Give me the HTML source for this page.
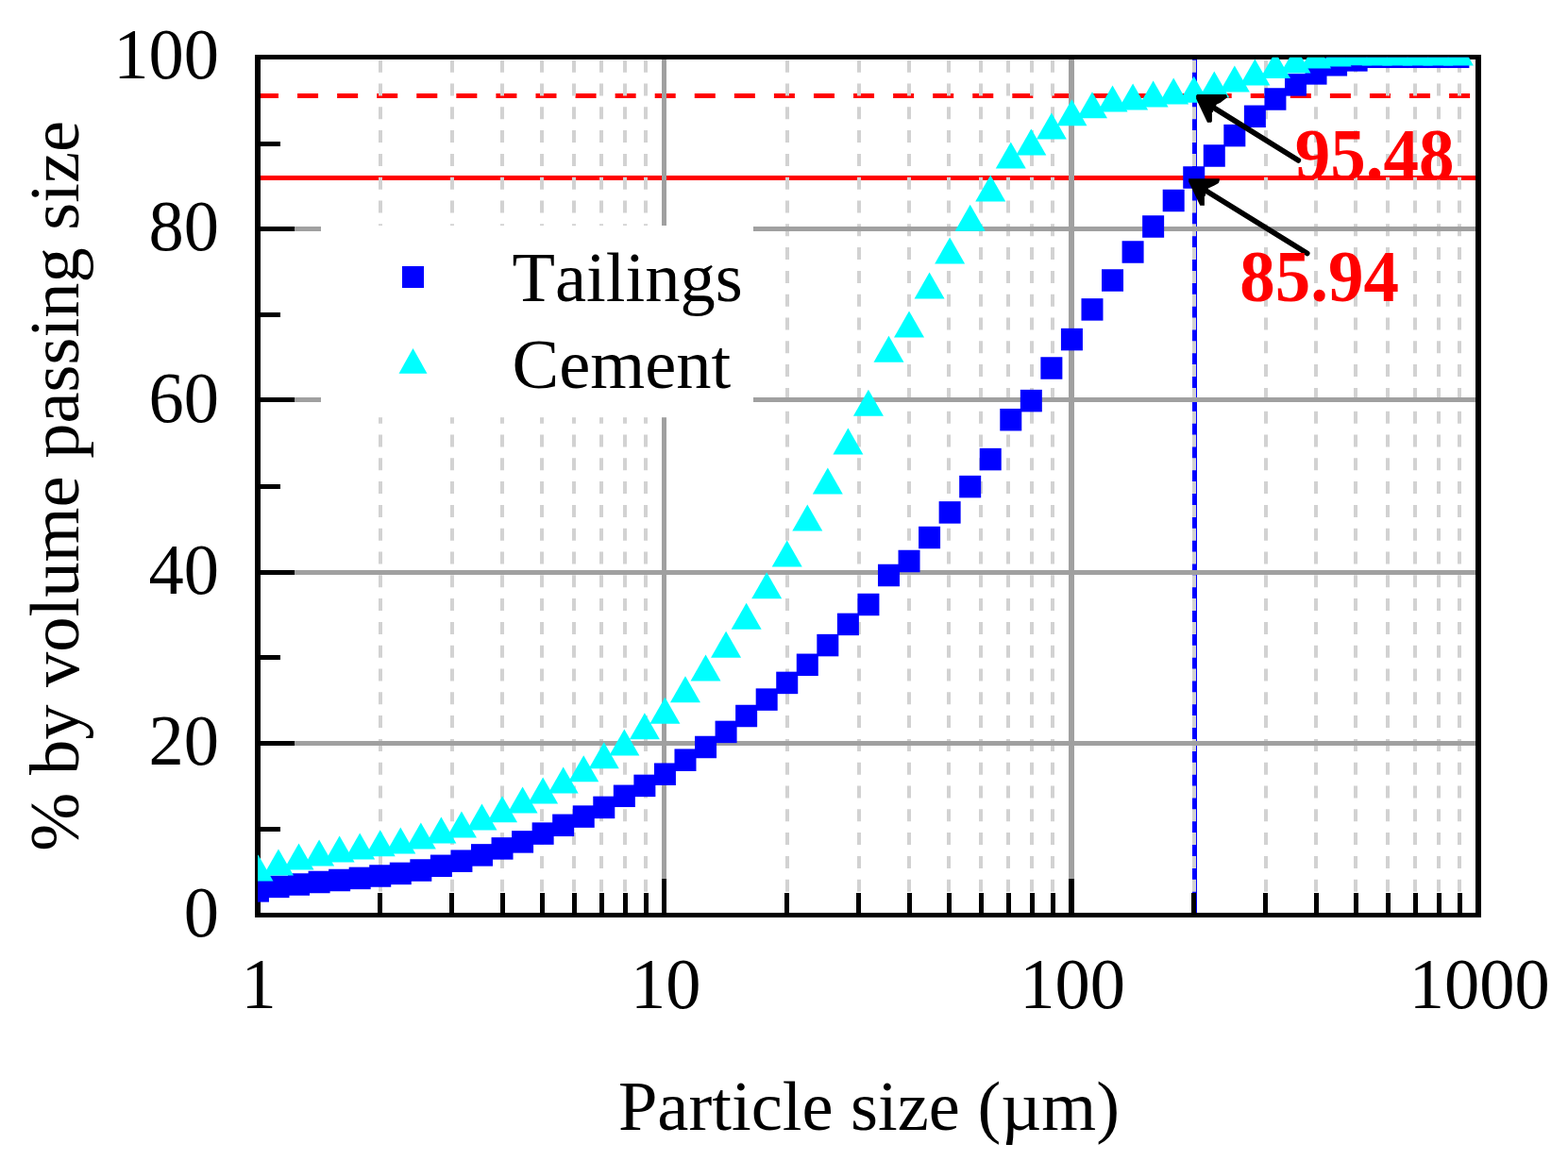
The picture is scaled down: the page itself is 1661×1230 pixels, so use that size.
<!DOCTYPE html>
<html><head><meta charset="utf-8"><title>Particle size distribution</title>
<style>html,body{margin:0;padding:0;background:#fff;}svg{display:block;}text{font-family:"Liberation Serif", "Times New Roman", serif;font-kerning:none;}</style></head><body>
<svg width="1661" height="1230" viewBox="0 0 1661 1230">
<rect x="0" y="0" width="1661" height="1230" fill="#fff"/>
<defs><clipPath id="pc"><rect x="273.0" y="60.8" width="1293.0" height="908.7"/></clipPath></defs>
<g id="ref">
<line x1="273.0" y1="101.5" x2="1566.0" y2="101.5" stroke="#f00" stroke-width="5" stroke-dasharray="22 20.07"/>
<line x1="273.0" y1="188.5" x2="1566.0" y2="188.5" stroke="#f00" stroke-width="5"/>
<line x1="1265.5" y1="969.5" x2="1265.5" y2="60.5" stroke="#00f" stroke-width="5"/>
</g>
<g id="minor" stroke="#d2d2d2" stroke-width="4" stroke-dasharray="13 11.8">
<line x1="403.00" y1="969.5" x2="403.00" y2="60.5"/>
<line x1="479.00" y1="969.5" x2="479.00" y2="60.5"/>
<line x1="532.00" y1="969.5" x2="532.00" y2="60.5"/>
<line x1="574.00" y1="969.5" x2="574.00" y2="60.5"/>
<line x1="608.00" y1="969.5" x2="608.00" y2="60.5"/>
<line x1="637.00" y1="969.5" x2="637.00" y2="60.5"/>
<line x1="662.00" y1="969.5" x2="662.00" y2="60.5"/>
<line x1="684.00" y1="969.5" x2="684.00" y2="60.5"/>
<line x1="834.00" y1="969.5" x2="834.00" y2="60.5"/>
<line x1="910.00" y1="969.5" x2="910.00" y2="60.5"/>
<line x1="963.00" y1="969.5" x2="963.00" y2="60.5"/>
<line x1="1005.00" y1="969.5" x2="1005.00" y2="60.5"/>
<line x1="1039.00" y1="969.5" x2="1039.00" y2="60.5"/>
<line x1="1068.00" y1="969.5" x2="1068.00" y2="60.5"/>
<line x1="1093.00" y1="969.5" x2="1093.00" y2="60.5"/>
<line x1="1115.00" y1="969.5" x2="1115.00" y2="60.5"/>
<line x1="1265.00" y1="969.5" x2="1265.00" y2="60.5"/>
<line x1="1341.00" y1="969.5" x2="1341.00" y2="60.5"/>
<line x1="1394.00" y1="969.5" x2="1394.00" y2="60.5"/>
<line x1="1436.00" y1="969.5" x2="1436.00" y2="60.5"/>
<line x1="1470.00" y1="969.5" x2="1470.00" y2="60.5"/>
<line x1="1499.00" y1="969.5" x2="1499.00" y2="60.5"/>
<line x1="1524.00" y1="969.5" x2="1524.00" y2="60.5"/>
<line x1="1546.00" y1="969.5" x2="1546.00" y2="60.5"/>
</g>
<g id="major" stroke="#a0a0a0">
<line x1="703.50" y1="969.5" x2="703.50" y2="60.5" stroke-width="5"/>
<line x1="1135.00" y1="969.5" x2="1135.00" y2="60.5" stroke-width="6"/>
<line x1="273.0" y1="787.50" x2="1566.0" y2="787.50" stroke-width="5"/>
<line x1="273.0" y1="606.50" x2="1566.0" y2="606.50" stroke-width="5"/>
<line x1="273.0" y1="423.50" x2="1566.0" y2="423.50" stroke-width="5"/>
<line x1="273.0" y1="242.50" x2="1566.0" y2="242.50" stroke-width="5"/>
</g>
<rect x="340" y="239" width="458" height="203.2" fill="#fff"/>
<g id="frame" stroke="#000" fill="none">
<line x1="273.0" y1="58.0" x2="273.0" y2="972.0" stroke-width="6"/>
<line x1="1566.0" y1="58.0" x2="1566.0" y2="972.0" stroke-width="6"/>
<line x1="270.0" y1="60.5" x2="1569.0" y2="60.5" stroke-width="5"/>
<line x1="270.0" y1="969.5" x2="1569.0" y2="969.5" stroke-width="5"/>
<line x1="402.50" y1="969.5" x2="402.50" y2="946.0" stroke-width="5"/>
<line x1="478.50" y1="969.5" x2="478.50" y2="946.0" stroke-width="5"/>
<line x1="532.50" y1="969.5" x2="532.50" y2="946.0" stroke-width="5"/>
<line x1="574.50" y1="969.5" x2="574.50" y2="946.0" stroke-width="5"/>
<line x1="608.50" y1="969.5" x2="608.50" y2="946.0" stroke-width="5"/>
<line x1="637.50" y1="969.5" x2="637.50" y2="946.0" stroke-width="5"/>
<line x1="662.50" y1="969.5" x2="662.50" y2="946.0" stroke-width="5"/>
<line x1="684.50" y1="969.5" x2="684.50" y2="946.0" stroke-width="5"/>
<line x1="703.50" y1="969.5" x2="703.50" y2="931.0" stroke-width="5"/>
<line x1="833.50" y1="969.5" x2="833.50" y2="946.0" stroke-width="5"/>
<line x1="909.50" y1="969.5" x2="909.50" y2="946.0" stroke-width="5"/>
<line x1="963.50" y1="969.5" x2="963.50" y2="946.0" stroke-width="5"/>
<line x1="1005.50" y1="969.5" x2="1005.50" y2="946.0" stroke-width="5"/>
<line x1="1039.50" y1="969.5" x2="1039.50" y2="946.0" stroke-width="5"/>
<line x1="1068.50" y1="969.5" x2="1068.50" y2="946.0" stroke-width="5"/>
<line x1="1093.50" y1="969.5" x2="1093.50" y2="946.0" stroke-width="5"/>
<line x1="1115.50" y1="969.5" x2="1115.50" y2="946.0" stroke-width="5"/>
<line x1="1135.00" y1="969.5" x2="1135.00" y2="931.0" stroke-width="6"/>
<line x1="1264.50" y1="969.5" x2="1264.50" y2="946.0" stroke-width="5"/>
<line x1="1340.50" y1="969.5" x2="1340.50" y2="946.0" stroke-width="5"/>
<line x1="1394.50" y1="969.5" x2="1394.50" y2="946.0" stroke-width="5"/>
<line x1="1436.50" y1="969.5" x2="1436.50" y2="946.0" stroke-width="5"/>
<line x1="1470.50" y1="969.5" x2="1470.50" y2="946.0" stroke-width="5"/>
<line x1="1499.50" y1="969.5" x2="1499.50" y2="946.0" stroke-width="5"/>
<line x1="1524.50" y1="969.5" x2="1524.50" y2="946.0" stroke-width="5"/>
<line x1="1546.50" y1="969.5" x2="1546.50" y2="946.0" stroke-width="5"/>
<line x1="273.0" y1="878.50" x2="297.0" y2="878.50" stroke-width="5"/>
<line x1="273.0" y1="787.50" x2="312.0" y2="787.50" stroke-width="5"/>
<line x1="273.0" y1="696.50" x2="297.0" y2="696.50" stroke-width="5"/>
<line x1="273.0" y1="606.50" x2="312.0" y2="606.50" stroke-width="5"/>
<line x1="273.0" y1="515.50" x2="297.0" y2="515.50" stroke-width="5"/>
<line x1="273.0" y1="423.50" x2="312.0" y2="423.50" stroke-width="5"/>
<line x1="273.0" y1="333.50" x2="297.0" y2="333.50" stroke-width="5"/>
<line x1="273.0" y1="242.50" x2="312.0" y2="242.50" stroke-width="5"/>
<line x1="273.0" y1="152.50" x2="297.0" y2="152.50" stroke-width="5"/>
</g>
<g clip-path="url(#pc)">
<g fill="#00f">
<rect x="261.93" y="932.15" width="23.0" height="23.5"/>
<rect x="283.48" y="927.65" width="23.0" height="23.5"/>
<rect x="305.03" y="925.25" width="23.0" height="23.5"/>
<rect x="326.58" y="922.75" width="23.0" height="23.5"/>
<rect x="348.13" y="920.75" width="23.0" height="23.5"/>
<rect x="369.68" y="918.65" width="23.0" height="23.5"/>
<rect x="391.23" y="916.25" width="23.0" height="23.5"/>
<rect x="412.78" y="913.65" width="23.0" height="23.5"/>
<rect x="434.33" y="910.25" width="23.0" height="23.5"/>
<rect x="455.88" y="905.55" width="23.0" height="23.5"/>
<rect x="477.43" y="900.45" width="23.0" height="23.5"/>
<rect x="498.98" y="894.15" width="23.0" height="23.5"/>
<rect x="520.53" y="887.15" width="23.0" height="23.5"/>
<rect x="542.08" y="880.15" width="23.0" height="23.5"/>
<rect x="563.63" y="871.35" width="23.0" height="23.5"/>
<rect x="585.18" y="862.55" width="23.0" height="23.5"/>
<rect x="606.73" y="853.35" width="23.0" height="23.5"/>
<rect x="628.28" y="843.65" width="23.0" height="23.5"/>
<rect x="649.83" y="831.55" width="23.0" height="23.5"/>
<rect x="671.38" y="820.65" width="23.0" height="23.5"/>
<rect x="692.93" y="808.45" width="23.0" height="23.5"/>
<rect x="714.48" y="793.45" width="23.0" height="23.5"/>
<rect x="736.03" y="779.75" width="23.0" height="23.5"/>
<rect x="757.58" y="763.65" width="23.0" height="23.5"/>
<rect x="779.13" y="746.75" width="23.0" height="23.5"/>
<rect x="800.68" y="729.35" width="23.0" height="23.5"/>
<rect x="822.23" y="711.65" width="23.0" height="23.5"/>
<rect x="843.78" y="692.55" width="23.0" height="23.5"/>
<rect x="865.33" y="671.85" width="23.0" height="23.5"/>
<rect x="886.88" y="649.65" width="23.0" height="23.5"/>
<rect x="908.43" y="628.75" width="23.0" height="23.5"/>
<rect x="929.98" y="597.75" width="23.0" height="23.5"/>
<rect x="951.53" y="582.75" width="23.0" height="23.5"/>
<rect x="973.08" y="557.75" width="23.0" height="23.5"/>
<rect x="994.63" y="531.15" width="23.0" height="23.5"/>
<rect x="1016.18" y="503.85" width="23.0" height="23.5"/>
<rect x="1037.73" y="474.85" width="23.0" height="23.5"/>
<rect x="1059.28" y="432.95" width="23.0" height="23.5"/>
<rect x="1080.83" y="412.85" width="23.0" height="23.5"/>
<rect x="1102.38" y="378.25" width="23.0" height="23.5"/>
<rect x="1123.93" y="347.85" width="23.0" height="23.5"/>
<rect x="1145.48" y="316.15" width="23.0" height="23.5"/>
<rect x="1167.03" y="285.25" width="23.0" height="23.5"/>
<rect x="1188.58" y="255.25" width="23.0" height="23.5"/>
<rect x="1210.13" y="228.25" width="23.0" height="23.5"/>
<rect x="1231.68" y="200.75" width="23.0" height="23.5"/>
<rect x="1253.23" y="176.25" width="23.0" height="23.5"/>
<rect x="1274.78" y="153.25" width="23.0" height="23.5"/>
<rect x="1296.33" y="131.85" width="23.0" height="23.5"/>
<rect x="1317.88" y="111.55" width="23.0" height="23.5"/>
<rect x="1339.43" y="93.25" width="23.0" height="23.5"/>
<rect x="1360.98" y="78.15" width="23.0" height="23.5"/>
<rect x="1382.53" y="66.15" width="23.0" height="23.5"/>
<rect x="1404.08" y="57.05" width="23.0" height="23.5"/>
<rect x="1425.63" y="52.15" width="23.0" height="23.5"/>
<rect x="1447.18" y="48.55" width="23.0" height="23.5"/>
<rect x="1468.73" y="48.55" width="23.0" height="23.5"/>
<rect x="1490.28" y="48.55" width="23.0" height="23.5"/>
<rect x="1511.83" y="48.55" width="23.0" height="23.5"/>
<rect x="1533.38" y="48.55" width="23.0" height="23.5"/>
</g><g fill="#0ff">
<polygon points="273.43,905.50 289.43,933.50 257.43,933.50"/>
<polygon points="294.98,899.50 310.98,927.50 278.98,927.50"/>
<polygon points="316.53,893.50 332.53,921.50 300.53,921.50"/>
<polygon points="338.08,889.40 354.08,917.40 322.08,917.40"/>
<polygon points="359.63,885.60 375.63,913.60 343.63,913.60"/>
<polygon points="381.18,882.40 397.18,910.40 365.18,910.40"/>
<polygon points="402.73,879.30 418.73,907.30 386.73,907.30"/>
<polygon points="424.28,876.40 440.28,904.40 408.28,904.40"/>
<polygon points="445.83,871.60 461.83,899.60 429.83,899.60"/>
<polygon points="467.38,865.40 483.38,893.40 451.38,893.40"/>
<polygon points="488.93,859.40 504.93,887.40 472.93,887.40"/>
<polygon points="510.48,851.40 526.48,879.40 494.48,879.40"/>
<polygon points="532.03,843.30 548.03,871.30 516.03,871.30"/>
<polygon points="553.58,833.40 569.58,861.40 537.58,861.40"/>
<polygon points="575.13,823.50 591.13,851.50 559.13,851.50"/>
<polygon points="596.68,812.50 612.68,840.50 580.68,840.50"/>
<polygon points="618.23,800.30 634.23,828.30 602.23,828.30"/>
<polygon points="639.78,786.20 655.78,814.20 623.78,814.20"/>
<polygon points="661.33,772.60 677.33,800.60 645.33,800.60"/>
<polygon points="682.88,755.30 698.88,783.30 666.88,783.30"/>
<polygon points="704.43,738.70 720.43,766.70 688.43,766.70"/>
<polygon points="725.98,716.30 741.98,744.30 709.98,744.30"/>
<polygon points="747.53,693.60 763.53,721.60 731.53,721.60"/>
<polygon points="769.08,668.70 785.08,696.70 753.08,696.70"/>
<polygon points="790.63,638.70 806.63,666.70 774.63,666.70"/>
<polygon points="812.18,606.30 828.18,634.30 796.18,634.30"/>
<polygon points="833.73,572.50 849.73,600.50 817.73,600.50"/>
<polygon points="855.28,534.60 871.28,562.60 839.28,562.60"/>
<polygon points="876.83,495.50 892.83,523.50 860.83,523.50"/>
<polygon points="898.38,453.50 914.38,481.50 882.38,481.50"/>
<polygon points="919.93,412.70 935.93,440.70 903.93,440.70"/>
<polygon points="941.48,355.80 957.48,383.80 925.48,383.80"/>
<polygon points="963.03,329.50 979.03,357.50 947.03,357.50"/>
<polygon points="984.58,288.60 1000.58,316.60 968.58,316.60"/>
<polygon points="1006.13,251.40 1022.13,279.40 990.13,279.40"/>
<polygon points="1027.68,216.70 1043.68,244.70 1011.68,244.70"/>
<polygon points="1049.23,185.50 1065.23,213.50 1033.23,213.50"/>
<polygon points="1070.78,150.40 1086.78,178.40 1054.78,178.40"/>
<polygon points="1092.33,136.50 1108.33,164.50 1076.33,164.50"/>
<polygon points="1113.88,119.40 1129.88,147.40 1097.88,147.40"/>
<polygon points="1135.43,105.30 1151.43,133.30 1119.43,133.30"/>
<polygon points="1156.98,97.30 1172.98,125.30 1140.98,125.30"/>
<polygon points="1178.53,90.50 1194.53,118.50 1162.53,118.50"/>
<polygon points="1200.08,88.40 1216.08,116.40 1184.08,116.40"/>
<polygon points="1221.63,85.40 1237.63,113.40 1205.63,113.40"/>
<polygon points="1243.18,82.50 1259.18,110.50 1227.18,110.50"/>
<polygon points="1264.73,80.70 1280.73,108.70 1248.73,108.70"/>
<polygon points="1286.28,75.40 1302.28,103.40 1270.28,103.40"/>
<polygon points="1307.83,69.40 1323.83,97.40 1291.83,97.40"/>
<polygon points="1329.38,62.40 1345.38,90.40 1313.38,90.40"/>
<polygon points="1350.93,55.00 1366.93,83.00 1334.93,83.00"/>
<polygon points="1372.48,49.50 1388.48,77.50 1356.48,77.50"/>
<polygon points="1394.03,44.50 1410.03,72.50 1378.03,72.50"/>
<polygon points="1415.58,42.40 1431.58,70.40 1399.58,70.40"/>
<polygon points="1437.13,41.30 1453.13,69.30 1421.13,69.30"/>
<polygon points="1458.68,41.40 1474.68,69.40 1442.68,69.40"/>
<polygon points="1480.23,41.40 1496.23,69.40 1464.23,69.40"/>
<polygon points="1501.78,41.40 1517.78,69.40 1485.78,69.40"/>
<polygon points="1523.33,41.40 1539.33,69.40 1507.33,69.40"/>
<polygon points="1544.88,41.40 1560.88,69.40 1528.88,69.40"/>
</g></g>
<g id="arrows" fill="#000" stroke="#000">
<line x1="1285.5" y1="114.0" x2="1375.3" y2="169.9" stroke-width="5.7" stroke-linecap="round"/>
<line x1="1278.0" y1="202.3" x2="1384.7" y2="268.4" stroke-width="5.7" stroke-linecap="round"/>
<polygon points="1267.10,101.30 1268.20,100.00 1298.80,100.00 1299.80,101.50 1299.80,103.40 1296.00,106.20 1292.90,108.70 1288.90,110.50 1285.80,115.80 1285.00,116.10 1285.00,118.90 1283.90,118.90 1283.90,128.40 1283.00,129.80 1279.00,129.80 1267.10,104.60" stroke="none"/>
<polygon points="1259.10,189.25 1291.80,189.25 1291.80,191.40 1290.80,193.90 1286.40,196.40 1279.90,199.40 1277.00,205.00 1277.00,207.50 1275.90,207.80 1275.90,217.70 1275.30,217.80 1271.30,217.80 1259.10,192.60" stroke="none"/>
</g>
<g font-weight="bold" fill="#f00" font-size="75.0">
<text transform="translate(1371.8,190.3) scale(1,1.035)">95.48</text>
<text transform="translate(1313.2,319) scale(1,1.035)">85.94</text>
</g>
<g fill="#000" font-size="74.5">
<text transform="translate(232,992.10) scale(1,1.035)" text-anchor="end">0</text>
<text transform="translate(232,810.30) scale(1,1.035)" text-anchor="end">20</text>
<text transform="translate(232,628.50) scale(1,1.035)" text-anchor="end">40</text>
<text transform="translate(232,446.70) scale(1,1.035)" text-anchor="end">60</text>
<text transform="translate(232,264.90) scale(1,1.035)" text-anchor="end">80</text>
<text transform="translate(232,83.10) scale(1,1.035)" text-anchor="end">100</text>
<text transform="translate(274.20,1067.6) scale(1,1.035)" text-anchor="middle">1</text>
<text transform="translate(705.20,1067.6) scale(1,1.035)" text-anchor="middle">10</text>
<text transform="translate(1136.20,1067.6) scale(1,1.035)" text-anchor="middle">100</text>
<text transform="translate(1567.20,1067.6) scale(1,1.035)" text-anchor="middle">1000</text>
<text x="920.5" y="1196.9" text-anchor="middle">Particle size (µm)</text>
<text transform="translate(83,514.85) rotate(-90)" x="0" y="0" text-anchor="middle">% by volume passing size</text>
<text x="542.5" y="318.7">Tailings</text>
<text x="542.5" y="411.2">Cement</text>
</g>
<rect x="426" y="282" width="23" height="23" fill="#00f"/>
<polygon points="437.5,369.1 452.5,395.8 422.5,395.8" fill="#0ff"/>
</svg></body></html>
